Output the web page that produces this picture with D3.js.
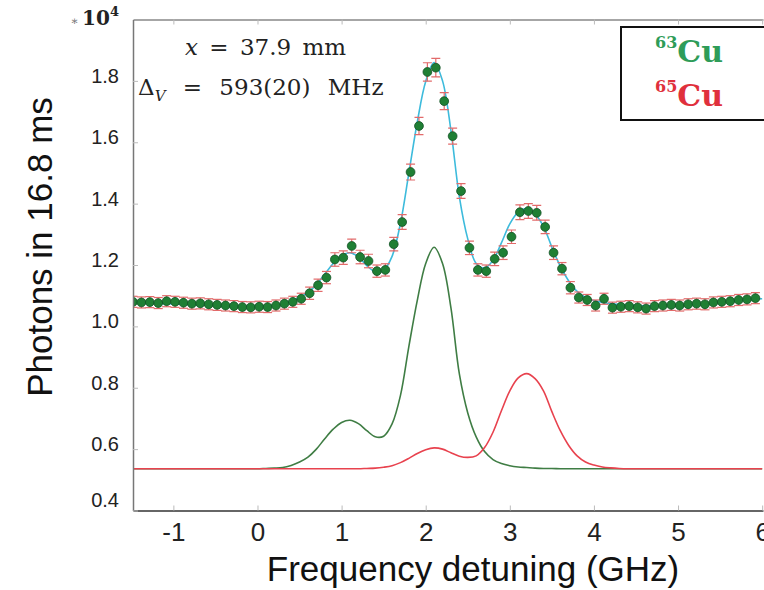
<!DOCTYPE html>
<html>
<head>
<meta charset="utf-8">
<script src="https://cdn.jsdelivr.net/npm/d3@7"></script>
<style>
body { margin: 0; background: #fff; }
svg { display: block; }
</style>
</head>
<body>
<svg id="viz"></svg>
<script>
// measured points (photons, units of 1e4)
const freqGHz = [-1.48, -1.38, -1.28, -1.18, -1.08, -0.98, -0.88, -0.78, -0.68, -0.58,
    -0.48, -0.38, -0.28, -0.18, -0.08, 0.02, 0.12, 0.22, 0.32, 0.42,
    0.52, 0.62, 0.72, 0.82, 0.92, 1.02, 1.12, 1.22, 1.32, 1.42,
    1.52, 1.62, 1.72, 1.82, 1.92, 2.02, 2.12, 2.22, 2.32, 2.42,
    2.52, 2.62, 2.72, 2.82, 2.92, 3.02, 3.12, 3.22, 3.32, 3.42,
    3.52, 3.62, 3.72, 3.82, 3.92, 4.02, 4.12, 4.22, 4.32, 4.42,
    4.52, 4.62, 4.72, 4.82, 4.92, 5.02, 5.12, 5.22, 5.32, 5.42,
    5.52, 5.62, 5.72, 5.82, 5.92];
const photons = [1.080, 1.078, 1.079, 1.076, 1.082, 1.080, 1.077, 1.074, 1.075, 1.072,
    1.070, 1.068, 1.066, 1.063, 1.062, 1.064, 1.063, 1.068, 1.074, 1.080,
    1.090, 1.108, 1.134, 1.159, 1.218, 1.224, 1.262, 1.226, 1.213, 1.180,
    1.184, 1.268, 1.340, 1.503, 1.653, 1.829, 1.843, 1.734, 1.620, 1.441,
    1.256, 1.184, 1.180, 1.220, 1.240, 1.292, 1.372, 1.376, 1.370, 1.324,
    1.240, 1.188, 1.126, 1.094, 1.086, 1.068, 1.090, 1.061, 1.064, 1.066,
    1.062, 1.058, 1.066, 1.068, 1.070, 1.068, 1.072, 1.074, 1.072, 1.078,
    1.080, 1.082, 1.086, 1.088, 1.092];
const photonErr = [0.018, 0.018, 0.018, 0.018, 0.018, 0.018, 0.018, 0.018, 0.018, 0.018,
    0.018, 0.018, 0.018, 0.018, 0.018, 0.018, 0.018, 0.018, 0.018, 0.018,
    0.018, 0.020, 0.020, 0.020, 0.022, 0.022, 0.022, 0.022, 0.022, 0.020,
    0.020, 0.022, 0.024, 0.026, 0.028, 0.030, 0.030, 0.028, 0.026, 0.024,
    0.022, 0.020, 0.020, 0.022, 0.022, 0.022, 0.024, 0.024, 0.024, 0.022,
    0.022, 0.020, 0.020, 0.018, 0.018, 0.018, 0.018, 0.018, 0.018, 0.018,
    0.018, 0.018, 0.018, 0.018, 0.018, 0.018, 0.018, 0.018, 0.018, 0.018,
    0.018, 0.018, 0.018, 0.018, 0.018];

// fitted curves on a 0.1 GHz grid
const fitGHz = [-1.5, -1.4, -1.3, -1.2, -1.1, -1.0, -0.9, -0.8, -0.7, -0.6,
    -0.5, -0.4, -0.3, -0.2, -0.1, 0.0, 0.1, 0.2, 0.3, 0.4,
    0.5, 0.6, 0.7, 0.8, 0.9, 1.0, 1.1, 1.2, 1.3, 1.4,
    1.5, 1.6, 1.7, 1.8, 1.9, 2.0, 2.1, 2.2, 2.3, 2.4,
    2.5, 2.6, 2.7, 2.8, 2.9, 3.0, 3.1, 3.2, 3.3, 3.4,
    3.5, 3.6, 3.7, 3.8, 3.9, 4.0, 4.1, 4.2, 4.3, 4.4,
    4.5, 4.6, 4.7, 4.8, 4.9, 5.0, 5.1, 5.2, 5.3, 5.4,
    5.5, 5.6, 5.7, 5.8, 5.9, 6.0];
const fitTotal = [1.078, 1.077, 1.076, 1.075, 1.074, 1.073, 1.072, 1.071, 1.070, 1.069,
    1.068, 1.067, 1.066, 1.066, 1.066, 1.066, 1.067, 1.069, 1.074, 1.082,
    1.094, 1.110, 1.136, 1.170, 1.205, 1.230, 1.240, 1.226, 1.198, 1.178,
    1.183, 1.228, 1.336, 1.500, 1.666, 1.798, 1.860, 1.800, 1.638, 1.422,
    1.285, 1.205, 1.190, 1.215, 1.272, 1.334, 1.372, 1.384, 1.366, 1.326,
    1.258, 1.196, 1.148, 1.114, 1.094, 1.084, 1.078, 1.074, 1.071, 1.069,
    1.068, 1.067, 1.067, 1.067, 1.068, 1.069, 1.071, 1.073, 1.075, 1.077,
    1.079, 1.081, 1.083, 1.085, 1.088, 1.090];
const cu63Fit = [0.536, 0.536, 0.536, 0.536, 0.536, 0.536, 0.536, 0.536, 0.536, 0.536,
    0.536, 0.536, 0.536, 0.536, 0.536, 0.536, 0.537, 0.538, 0.540, 0.547,
    0.558, 0.574, 0.600, 0.634, 0.665, 0.687, 0.694, 0.683, 0.660, 0.640,
    0.642, 0.682, 0.775, 0.935, 1.085, 1.205, 1.258, 1.205, 1.060, 0.845,
    0.718, 0.640, 0.592, 0.566, 0.553, 0.546, 0.542, 0.540, 0.538, 0.537,
    0.537, 0.536, 0.536, 0.536, 0.536, 0.536, 0.536, 0.536, 0.536, 0.536,
    0.536, 0.536, 0.536, 0.536, 0.536, 0.536, 0.536, 0.536, 0.536, 0.536,
    0.536, 0.536, 0.536, 0.536, 0.536, 0.536];
const cu65Fit = [0.536, 0.536, 0.536, 0.536, 0.536, 0.536, 0.536, 0.536, 0.536, 0.536,
    0.536, 0.536, 0.536, 0.536, 0.536, 0.536, 0.536, 0.536, 0.536, 0.536,
    0.536, 0.536, 0.536, 0.536, 0.536, 0.536, 0.536, 0.536, 0.537, 0.538,
    0.541, 0.546, 0.556, 0.570, 0.586, 0.598, 0.604, 0.600, 0.588, 0.577,
    0.573, 0.578, 0.605, 0.655, 0.725, 0.790, 0.832, 0.846, 0.830, 0.790,
    0.722, 0.660, 0.612, 0.578, 0.558, 0.548, 0.542, 0.539, 0.537, 0.536,
    0.536, 0.536, 0.536, 0.536, 0.536, 0.536, 0.536, 0.536, 0.536, 0.536,
    0.536, 0.536, 0.536, 0.536, 0.536, 0.536];

const xTicks = [-1, 0, 1, 2, 3, 4, 5, 6];
const yTicks = [0.4, 0.6, 0.8, 1.0, 1.2, 1.4, 1.6, 1.8];

const width = 764;
const height = 590;
const plotLeft = 133, plotRight = 763, plotTop = 19.5, plotBottom = 510.5;

const x = d3.scaleLinear().domain([-1.48, 6.01]).range([plotLeft, plotRight]);
const y = d3.scaleLinear().domain([0.4, 2.0]).range([plotBottom, plotTop]);

const svg = d3.select("#viz").attr("width", width).attr("height", height);

svg.append("clipPath").attr("id", "plotclip")
    .append("rect")
    .attr("x", plotLeft).attr("y", plotTop)
    .attr("width", width - plotLeft).attr("height", plotBottom - plotTop);

const plot = svg.append("g").attr("clip-path", "url(#plotclip)");

const fitLine = function (vals) {
    return d3.line()
        .x(function (d, i) { return x(fitGHz[i]); })
        .y(function (d) { return y(d); })
        .curve(d3.curveCatmullRom)(vals);
};

plot.append("path").attr("d", fitLine(cu63Fit))
    .attr("fill", "none").attr("stroke", "#3f7d44").attr("stroke-width", 1.6);
plot.append("path").attr("d", fitLine(cu65Fit))
    .attr("fill", "none").attr("stroke", "#e8424e").attr("stroke-width", 1.6);
plot.append("path").attr("d", fitLine(fitTotal))
    .attr("fill", "none").attr("stroke", "#3dbbdc").attr("stroke-width", 1.6);

// error bars
const points = freqGHz.map(function (f, i) {
    return { f: f, v: photons[i], e: photonErr[i] };
});
const bars = plot.append("g").attr("stroke", "#e26a6a").attr("stroke-width", 1.2);
bars.selectAll("line.v").data(points).enter().append("line")
    .attr("x1", function (d) { return x(d.f); })
    .attr("x2", function (d) { return x(d.f); })
    .attr("y1", function (d) { return y(d.v - d.e); })
    .attr("y2", function (d) { return y(d.v + d.e); });
[-1, 1].forEach(function (s) {
    bars.selectAll("line.c" + s).data(points).enter().append("line")
        .attr("x1", function (d) { return x(d.f) - 4.5; })
        .attr("x2", function (d) { return x(d.f) + 4.5; })
        .attr("y1", function (d) { return y(d.v + s * d.e); })
        .attr("y2", function (d) { return y(d.v + s * d.e); });
});

plot.append("g").selectAll("circle").data(points).enter().append("circle")
    .attr("cx", function (d) { return x(d.f); })
    .attr("cy", function (d) { return y(d.v); })
    .attr("r", 4.4)
    .attr("fill", "#1f7f34")
    .attr("stroke", "#125224")
    .attr("stroke-width", 0.8);

// frame and axes
const xAxis = svg.append("g").attr("transform", "translate(0," + plotBottom + ")")
    .call(d3.axisBottom(x).tickValues(xTicks).tickSizeInner(-5).tickSizeOuter(0)
        .tickPadding(12).tickFormat(function (d) { return String(d); }));
xAxis.select(".domain").attr("stroke", "#333").attr("stroke-width", 1.5);
xAxis.selectAll(".tick line").attr("stroke", "#bbb");
xAxis.selectAll("text").attr("font-family", "Liberation Sans, Arial, sans-serif")
    .attr("font-size", 26).attr("fill", "#222");

const topAxis = svg.append("g").attr("transform", "translate(0," + plotTop + ")")
    .call(d3.axisTop(x).tickValues(xTicks).tickSizeInner(-5).tickSizeOuter(0).tickFormat(""));
topAxis.select(".domain").attr("stroke", "#888").attr("stroke-width", 1.5);
topAxis.selectAll(".tick line").attr("stroke", "#bbb");

const yAxis = svg.append("g").attr("transform", "translate(" + plotLeft + ",0)")
    .call(d3.axisLeft(y).tickValues(yTicks).tickSizeInner(-5).tickSizeOuter(0)
        .tickPadding(14).tickFormat(d3.format(".1f")));
yAxis.select(".domain").attr("stroke", "#777").attr("stroke-width", 1.5);
yAxis.selectAll(".tick line").attr("stroke", "#bbb");
yAxis.selectAll("text").attr("font-family", "Liberation Sans, Arial, sans-serif")
    .attr("font-size", 20).attr("fill", "#222")
    .attr("dy", function (d) { return d === 0.4 ? "-0.2em" : "0.07em"; });

svg.append("text")
    .attr("x", 473).attr("y", 581)
    .attr("text-anchor", "middle")
    .attr("font-family", "Liberation Sans, Arial, sans-serif")
    .attr("font-size", 35).attr("fill", "#111")
    .text("Frequency detuning (GHz)");

svg.append("text")
    .attr("transform", "translate(52,247) rotate(-90)")
    .attr("text-anchor", "middle")
    .attr("font-family", "Liberation Sans, Arial, sans-serif")
    .attr("font-size", 35).attr("fill", "#111")
    .text("Photons in 16.8 ms");

// multiplier
const mult = svg.append("text")
    .attr("x", 119).attr("y", 25)
    .attr("text-anchor", "end")
    .attr("font-family", "DejaVu Serif, serif")
    .attr("fill", "#222");
mult.append("tspan").attr("font-size", 12).attr("fill", "#777").text("∗ ");
mult.append("tspan").attr("font-size", 20).attr("font-weight", "bold").text("10");
mult.append("tspan").attr("font-size", 13).attr("font-weight", "bold").attr("dy", -9).text("4");

// annotation
const note1 = svg.append("text")
    .attr("x", 185).attr("y", 55)
    .attr("word-spacing", 4)
    .attr("font-family", "DejaVu Serif, serif")
    .attr("font-size", 23).attr("fill", "#222");
note1.append("tspan").attr("font-style", "italic").text("x");
note1.append("tspan").text(" = 37.9 mm");

const note2 = svg.append("text")
    .attr("x", 138).attr("y", 95)
    .attr("word-spacing", 10)
    .attr("font-family", "DejaVu Serif, serif")
    .attr("font-size", 23).attr("fill", "#222");
note2.append("tspan").text("Δ");
note2.append("tspan").attr("font-style", "italic").attr("font-size", 15).attr("dy", 6).text("V");
note2.append("tspan").attr("dy", -6).text(" = 593(20) MHz");

// legend
svg.append("rect")
    .attr("x", 621).attr("y", 27).attr("width", 160).attr("height", 93)
    .attr("fill", "#fff").attr("stroke", "#111").attr("stroke-width", 2);

const legendItems = [
    { mass: "63", color: "#2e9c58", base: 62 },
    { mass: "65", color: "#e0303c", base: 106 }
];
legendItems.forEach(function (d) {
    const t = svg.append("text")
        .attr("x", 655).attr("y", d.base)
        .attr("font-family", "DejaVu Serif, serif")
        .attr("font-weight", "bold")
        .attr("fill", d.color);
    t.append("tspan").attr("font-size", 16).attr("dy", -14).text(d.mass);
    t.append("tspan").attr("font-size", 30).attr("dy", 14).text("Cu");
});
</script>
</body>
</html>
